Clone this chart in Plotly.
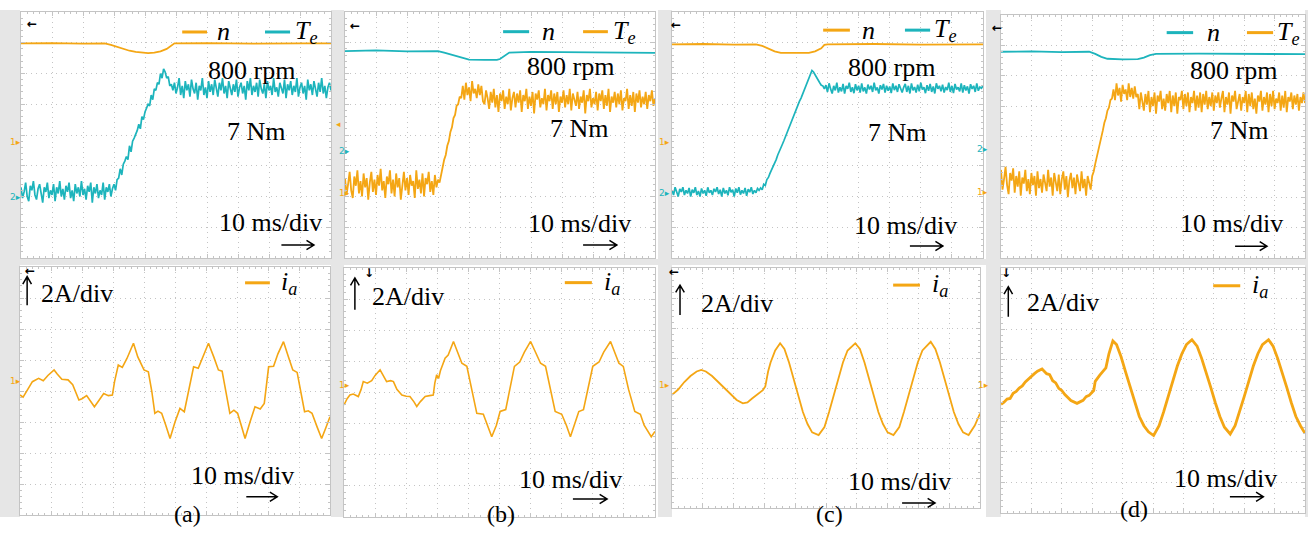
import numpy as np
import plotly.graph_objects as go

W, H = 1308, 543

# ---------------- measured traces ----------------
# time in ms (10 ms/div), level in screen divisions (8 div high)

# speed n : (t, level)
n_a = [(0, 6.98), (10, 6.99), (20, 6.97), (27, 6.98), (29, 6.93), (31, 6.86), (33, 6.8), (35, 6.74),
       (37, 6.7), (39, 6.67), (41, 6.66), (43, 6.68), (45, 6.72), (47, 6.8), (48.5, 6.9), (49.5, 6.98),
       (60, 6.99), (75, 6.97), (90, 6.98), (100, 6.98)]
n_b = [(0, 6.73), (10, 6.75), (20, 6.72), (30, 6.73), (32, 6.68), (34, 6.62), (36, 6.56), (38, 6.5),
       (40, 6.45), (45, 6.44), (49, 6.44), (50, 6.47), (51.5, 6.58), (53, 6.68), (60, 6.7), (75, 6.69),
       (90, 6.68), (100, 6.67)]
n_c = [(0, 6.95), (10, 6.96), (20, 6.94), (27, 6.95), (29, 6.9), (31, 6.8), (33, 6.72), (35, 6.67),
       (40, 6.66), (44, 6.67), (46, 6.72), (48, 6.82), (49, 6.93), (50, 6.95), (65, 6.96), (80, 6.94),
       (100, 6.95)]
n_d = [(0, 6.79), (10, 6.8), (20, 6.78), (29, 6.79), (31, 6.72), (33, 6.62), (35, 6.56), (40, 6.54),
       (45, 6.55), (47, 6.6), (49, 6.68), (51, 6.72), (65, 6.73), (80, 6.72), (100, 6.71)]

# torque Te : one sample every 0.5 ms, 0..100 ms (201 samples)
te_a = [2.3, 1.95, 2.15, 2.45, 2.0, 1.85, 2.35, 2.2, 2.5, 2.05,
        1.9, 2.25, 2.4, 2.1, 1.8, 2.3, 2.15, 2.45, 1.95, 2.2,
        2.05, 2.4, 1.85, 2.3, 2.1, 2.5, 2.0, 2.25, 1.9, 2.35,
        2.15, 2.45, 1.95, 2.2, 1.85, 2.4, 2.1, 2.3, 2.0, 2.5,
        2.05, 2.25, 1.9, 2.35, 2.15, 2.45, 1.8, 2.3, 2.1, 2.4,
        1.95, 2.2, 2.05, 2.45, 1.9, 2.3, 2.15, 2.4, 2.0, 2.25,
        2.4, 2.2, 2.55, 2.6, 2.9, 2.7, 3.05, 3.15, 3.3, 3.2,
        3.65, 3.45, 3.8, 3.9, 4.0, 4.15, 4.35, 4.2, 4.6, 4.5,
        4.75, 4.85, 5.0, 4.95, 5.3, 5.15, 5.5, 5.45, 5.7, 5.65,
        6.0, 5.85, 6.15, 6.05, 5.85, 5.9, 5.6, 5.65, 5.45,
        5.7, 5.35, 5.55, 5.85, 5.3, 5.6, 5.2, 5.75, 5.45, 5.65,
        5.25, 5.8, 5.5, 5.35, 5.7, 5.15, 5.6, 5.45, 5.85, 5.3,
        5.55, 5.2, 5.75, 5.4, 5.65, 5.3, 5.8, 5.5, 5.25, 5.7,
        5.45, 5.85, 5.35, 5.6, 5.2, 5.75, 5.5, 5.3, 5.65, 5.4,
        5.8, 5.25, 5.55, 5.7, 5.35, 5.6, 5.15, 5.75, 5.45, 5.85,
        5.3, 5.6, 5.4, 5.7, 5.25, 5.8, 5.5, 5.35, 5.65, 5.2,
        5.75, 5.45, 5.6, 5.3, 5.85, 5.4, 5.55, 5.25, 5.7, 5.5,
        5.35, 5.8, 5.2, 5.65, 5.45, 5.75, 5.3, 5.6, 5.4, 5.85,
        5.25, 5.55, 5.7, 5.35, 5.6, 5.15, 5.8, 5.45, 5.65, 5.3,
        5.75, 5.5, 5.25, 5.7, 5.4, 5.85, 5.35, 5.6, 5.2, 5.55,
        5.7, 5.45]
te_b = [2.6, 2.05, 2.4, 2.8, 2.2, 1.95, 2.65, 2.35, 2.85, 2.1,
        2.5, 2.0, 2.75, 2.3, 2.6, 1.9, 2.45, 2.8, 2.15, 2.55,
        2.05, 2.7, 2.35, 2.9, 2.2, 2.5, 1.95, 2.65, 2.4, 2.85,
        2.1, 2.55, 2.0, 2.75, 2.3, 2.6, 1.9, 2.45, 2.8, 2.2,
        2.6, 2.05, 2.7, 2.35, 2.5, 1.95, 2.85, 2.25, 2.55, 2.1,
        2.75, 2.0, 2.6, 2.4, 2.8, 2.15, 2.5, 2.05, 2.7, 2.3,
        2.55, 2.45,
        2.75, 2.95, 3.2, 3.35, 3.65, 3.8, 4.1, 4.25, 4.55, 4.65, 4.95, 5.0, 5.25, 5.2,
        5.6, 5.15, 5.7, 5.3, 5.55, 5.1, 5.75, 5.35, 5.5, 5.2, 5.65, 5.3, 5.6, 5.1,
        5.0, 5.45, 5.2, 4.85, 5.4, 5.05, 5.5, 4.9, 5.3, 4.75,
        5.35, 5.1, 5.45, 4.85, 5.25, 5.0, 5.5, 4.8, 5.2, 5.4,
        4.9, 5.35, 5.05, 5.45, 4.75, 5.3, 5.1, 5.5, 4.85, 5.25,
        4.95, 5.4, 4.7, 5.35, 5.15, 5.45, 4.9, 5.2, 5.0, 5.5,
        4.8, 5.3, 5.1, 5.45, 4.85, 5.35, 5.0, 5.4, 4.75, 5.25,
        5.05, 5.45, 4.9, 5.3, 5.0, 5.5, 4.8, 5.35, 5.15, 4.95,
        5.4, 4.85, 5.25, 5.05, 5.45, 4.7, 5.3, 5.1, 5.5, 4.9,
        5.2, 5.0, 5.4, 4.8, 5.35, 5.1, 5.45, 4.85, 5.3, 4.95,
        5.5, 4.75, 5.25, 5.05, 5.4, 4.9, 5.35, 5.0, 5.45, 4.8,
        5.2, 5.1, 5.5, 4.85, 5.3, 4.95, 5.4, 4.75, 5.35, 5.05,
        5.45, 4.9, 5.25, 5.0, 5.4, 4.85, 5.3, 5.1, 5.45, 4.95,
        5.2]
te_c = [2.2, 2.05, 2.3, 2.12, 2.0, 2.25, 2.15, 2.3, 2.05, 2.2,
        2.1, 2.28, 2.0, 2.22, 2.12, 2.3, 2.05, 2.18, 2.0, 2.26,
        2.1, 2.2, 2.02, 2.3, 2.12, 2.2, 2.05, 2.25, 2.15, 2.3,
        2.08, 2.22, 2.0, 2.28, 2.1, 2.2, 2.04, 2.3, 2.14, 2.22,
        2.0, 2.26, 2.12, 2.3, 2.06, 2.2, 2.1, 2.28, 2.02, 2.24,
        2.14, 2.3, 2.08, 2.2, 2.12, 2.26, 2.2,
        2.28, 2.22, 2.4, 2.36, 2.55, 2.62, 2.75, 2.85, 3.0, 3.08,
        3.2, 3.35, 3.45, 3.6, 3.7, 3.82, 3.95, 4.1, 4.2, 4.32,
        4.45, 4.6, 4.7, 4.85, 4.95, 5.1, 5.2, 5.32, 5.45, 5.58,
        5.68, 5.8, 5.95, 6.1,
        6.05, 5.95, 5.85, 5.8, 5.7, 5.62, 5.6, 5.5,
        5.62, 5.4, 5.68, 5.5, 5.35, 5.6, 5.45, 5.7, 5.38, 5.55,
        5.42, 5.66, 5.35, 5.6, 5.5, 5.7, 5.4, 5.55, 5.36, 5.65,
        5.45, 5.6, 5.38, 5.68, 5.42, 5.55, 5.35, 5.64, 5.48, 5.6,
        5.4, 5.7, 5.45, 5.55, 5.35, 5.62, 5.48, 5.66, 5.38, 5.6,
        5.44, 5.58, 5.36, 5.68, 5.46, 5.6, 5.4, 5.65, 5.5, 5.38,
        5.55, 5.66, 5.4, 5.6, 5.35, 5.68, 5.45, 5.56, 5.38, 5.64,
        5.42, 5.7, 5.48, 5.55, 5.36, 5.62, 5.44, 5.66, 5.4, 5.58,
        5.35, 5.68, 5.5, 5.6, 5.42, 5.64, 5.38, 5.56, 5.46, 5.7,
        5.4, 5.6, 5.36, 5.66, 5.48, 5.55, 5.42, 5.68, 5.38, 5.62,
        5.45, 5.58, 5.35, 5.65, 5.5, 5.6, 5.4, 5.68, 5.44, 5.56,
        5.52, 5.6]
te_d = [2.9, 2.25, 2.6, 3.0, 2.4, 2.1, 2.8, 2.55, 2.95, 2.15,
        2.7, 2.35, 2.85, 2.05, 2.65, 2.45, 2.9, 2.2, 2.6, 2.1,
        2.8, 2.4, 2.7, 2.05, 2.85, 2.3, 2.6, 2.15, 2.75, 2.45,
        2.2, 2.9, 2.35, 2.65, 2.05, 2.8, 2.5, 2.2, 2.75, 2.1,
        2.6, 2.85, 2.25, 2.7, 2.0, 2.55, 2.8, 2.3, 2.65, 2.1,
        2.75, 2.4, 2.2, 2.85, 2.3, 2.6, 2.05, 2.7, 2.45, 2.25,
        2.7, 2.85, 3.1, 3.3, 3.55, 3.75, 4.0, 4.2, 4.45, 4.6, 4.85, 4.95, 5.2, 5.25,
        5.55, 5.2, 5.75, 5.35, 5.6, 5.15, 5.7, 5.4, 5.55, 5.2, 5.75, 5.3, 5.6, 5.25, 5.65, 5.3,
        5.4, 4.9, 5.45, 5.15, 4.85, 5.4, 5.05, 5.5, 4.8, 5.3,
        5.0, 5.45, 4.75, 5.35, 5.15, 5.5, 4.9, 5.25, 4.85, 5.4,
        5.1, 5.5, 4.8, 5.35, 5.0, 5.45, 4.75, 5.3, 5.2, 5.5,
        4.9, 5.4, 5.0, 5.45, 4.8, 5.3, 5.1, 5.5, 4.85, 5.35,
        4.95, 5.45, 4.8, 5.4, 5.05, 5.5, 4.9, 5.3, 5.0, 5.45,
        4.85, 5.35, 5.1, 5.45, 4.95, 5.25, 5.5, 4.8, 5.3, 5.05,
        5.45, 4.75, 5.35, 5.15, 5.5, 4.9, 5.2, 5.4, 4.85, 5.3,
        5.1, 5.5, 4.8, 5.4, 5.0, 5.45, 4.9, 5.25, 4.75, 5.35,
        5.15, 5.5, 4.85, 5.3, 5.05, 5.45, 4.8, 5.4, 5.0, 5.5,
        4.9, 5.25, 5.1, 5.45, 4.85, 5.35, 4.95, 5.5, 4.8, 5.3,
        5.15, 5.45, 4.9, 5.35, 5.05, 5.4, 4.85, 5.3, 5.1, 5.45,
        5.1]

# phase current ia : (t, level)
ia_a = [(0, 3.87), (1, 3.8), (2.5, 4.05), (4, 4.3), (6, 4.41), (7.5, 4.33), (9, 4.5), (11, 4.68),
        (12, 4.55), (13.5, 4.38), (15.5, 4.36), (17, 4.2), (19, 3.71), (20, 3.75), (21.5, 3.85),
        (22.5, 3.7), (24, 3.49), (25.5, 3.7), (27, 3.92), (28.5, 3.85), (29.8, 3.87), (30.5, 4.3),
        (31.7, 4.84), (33, 4.76), (34.5, 5.05), (36.6, 5.54), (38, 5.1), (40, 4.68), (41.4, 4.62),
        (42.5, 4.0), (43.5, 3.28), (44.5, 3.35), (45.7, 3.28), (47, 2.9), (48.4, 2.47), (50, 3.0),
        (51.6, 3.44), (53, 3.33), (54.5, 4.1), (56, 4.78), (57.5, 4.73), (59, 5.1), (60.8, 5.54),
        (62.5, 5.1), (64, 4.68), (65.2, 4.64), (66.5, 3.9), (67.7, 3.28), (69, 3.38), (70.2, 3.28),
        (71.5, 2.85), (72.6, 2.47), (74.2, 3.0), (75.8, 3.49), (77.5, 3.42), (78.8, 3.6), (80.2, 4.78),
        (81.8, 4.8), (83.2, 5.2), (85, 5.59), (86.6, 5.1), (88, 4.68), (89.4, 4.6), (90.5, 4.0),
        (91.8, 3.33), (93, 3.36), (94.2, 3.28), (95.8, 2.85), (97.3, 2.47), (98.6, 2.8), (100, 3.17)]
ia_b = [(0, 3.6), (1, 3.8), (1.9, 3.92), (3, 3.95), (4.6, 3.87), (5.5, 4.1), (6.2, 4.35), (7.5, 4.3),
        (8.9, 4.38), (10, 4.55), (11.6, 4.73), (12.5, 4.55), (13.7, 4.35), (15, 4.38), (15.9, 4.35),
        (17, 4.1), (18.6, 3.92), (20, 3.88), (21.2, 3.87), (22.5, 3.7), (23.4, 3.55), (24.5, 3.7),
        (26.1, 3.87), (27.5, 3.9), (28.7, 3.92), (29.2, 4.3), (29.8, 4.57), (30.4, 4.45), (31, 4.7),
        (32.5, 5.1), (33.5, 5.2), (35.2, 5.64), (36.5, 5.3), (37.9, 4.94), (39.5, 4.84), (41, 4.1),
        (42.7, 3.33), (44.8, 3.3), (46, 2.95), (47.5, 2.58), (49, 2.95), (50.2, 3.39), (52, 3.45),
        (53.5, 4.2), (54.8, 4.84), (56.5, 4.98), (58, 5.3), (60, 5.64), (61.5, 5.3), (63.2, 4.94),
        (64.8, 4.84), (66.3, 4.1), (67.9, 3.39), (70, 3.3), (71.5, 2.95), (72.8, 2.58), (74, 2.95),
        (75.5, 3.39), (77, 3.45), (78.5, 4.2), (80, 4.84), (82, 4.98), (83.5, 5.3), (85.7, 5.64),
        (87, 5.3), (88.4, 4.94), (89.8, 4.84), (91.5, 4.1), (93.5, 3.39), (95.3, 3.3), (96.5, 2.95),
        (98.8, 2.58), (100, 2.75)]
ia_c = [(0, 3.77), (2, 3.95), (4, 4.2), (6, 4.4), (8, 4.55), (9.5, 4.6), (11, 4.55), (13, 4.4),
        (15, 4.2), (17, 4.0), (19, 3.8), (21, 3.6), (23, 3.49), (24.5, 3.52), (26, 3.65), (28, 3.8),
        (29.5, 3.93), (30.3, 4.05), (30.7, 4.32), (31.2, 4.55), (32, 4.85), (33.5, 5.25), (35.1, 5.49),
        (36.5, 5.3), (38, 4.85), (39.5, 4.3), (41, 3.75), (42.5, 3.2), (44, 2.8), (45.5, 2.52),
        (47.6, 2.43), (49.5, 2.7), (51, 3.2), (52.5, 3.75), (54, 4.3), (55.5, 4.85), (57, 5.25),
        (59.5, 5.49), (61, 5.3), (62.5, 4.85), (64, 4.3), (65.5, 3.75), (67, 3.2), (68.5, 2.8),
        (70, 2.52), (71.9, 2.43), (73.8, 2.7), (75.3, 3.2), (76.8, 3.75), (78.3, 4.3), (79.8, 4.85),
        (81.3, 5.25), (84, 5.54), (85.5, 5.3), (87, 4.85), (88.5, 4.3), (90, 3.75), (91.5, 3.2),
        (93, 2.8), (94.5, 2.52), (96.3, 2.43), (98.3, 2.75), (100, 3.15)]
ia_d = [(0, 3.55), (1, 3.62), (2, 3.72), (3, 3.74), (4, 3.91), (5, 3.97), (6, 4.08), (7, 4.15),
        (8, 4.28), (9, 4.38), (10, 4.48), (11, 4.55), (12, 4.63), (13.5, 4.7), (15, 4.55), (16, 4.52),
        (17, 4.32), (18, 4.25), (19, 4.07), (20, 4.0), (21, 3.87), (22, 3.78), (23, 3.67), (25, 3.58),
        (26, 3.63), (27, 3.68), (28, 3.8), (29, 3.84), (30.5, 4.0), (31, 4.3), (32.5, 4.5), (34.5, 4.74),
        (35.5, 5.2), (36.8, 5.62), (38, 5.5), (39.5, 5.1), (41, 4.6), (42.5, 4.1), (44, 3.6),
        (45.5, 3.15), (47, 2.85), (48.5, 2.65), (50.2, 2.53), (52, 2.85), (53.5, 3.3), (55, 3.8),
        (56.5, 4.3), (58, 4.8), (59.5, 5.2), (61, 5.5), (62.8, 5.66), (64.5, 5.45), (66, 5.05),
        (67.5, 4.6), (69, 4.1), (70.5, 3.6), (72, 3.15), (73.5, 2.8), (75.4, 2.58), (77, 2.85),
        (78.5, 3.3), (80, 3.8), (81.5, 4.3), (83, 4.8), (84.5, 5.2), (86, 5.5), (88, 5.66),
        (89.5, 5.45), (91, 5.05), (92.5, 4.6), (94, 4.1), (95.5, 3.6), (97, 3.15), (98.5, 2.85),
        (100, 2.6)]

case_labels = ["(a)", "(b)", "(c)", "(d)"]

# ---------------- styling ----------------
ORANGE = "#f4a614"
TEAL = "#1db4bc"
GRID = "#c4c4c4"
STRIP = "#e6e6e6"
FONT = "Liberation Serif, Times New Roman, serif"
TXT = 26

# screen boxes in pixels: x0, x1, y0 (top), y1 (bottom)
boxes = [
    (21, 331, 12, 258), (345, 655, 12, 258), (672, 983, 12, 258), (1001, 1305, 15, 258),
    (20, 330, 267, 515), (344, 655, 268, 517), (672, 980, 268, 508), (1001, 1305, 268, 513),
]

fig = go.Figure()
layout = dict(width=W, height=H, margin=dict(l=0, r=0, t=0, b=0),
              paper_bgcolor="white", plot_bgcolor="white", showlegend=False)

for i, (x0, x1, y0, y1) in enumerate(boxes, start=1):
    sx = "" if i == 1 else str(i)
    common = dict(showgrid=True, gridcolor=GRID, gridwidth=1, griddash="1px,4px",
                  zeroline=False, showticklabels=False, showline=True, linecolor=GRID,
                  linewidth=1, mirror="ticks", ticks="inside", ticklen=4, tickcolor=GRID,
                  fixedrange=True)
    layout["xaxis" + sx] = dict(domain=[x0 / W, x1 / W], range=[0, 100], dtick=10,
                                anchor="y" + sx,
                                minor=dict(ticks="inside", ticklen=2, tickcolor=GRID,
                                           showgrid=False, dtick=2), **common)
    layout["yaxis" + sx] = dict(domain=[1 - y1 / H, 1 - y0 / H], range=[0, 8], dtick=1,
                                anchor="x" + sx,
                                minor=dict(ticks="inside", ticklen=2, tickcolor=GRID,
                                           showgrid=False, dtick=0.2), **common)

fig.update_layout(**layout)


def ax(i):
    return ("x", "y") if i == 1 else (f"x{i}", f"y{i}")


def add_line(i, xs, ys, color, width):
    xa, ya = ax(i)
    fig.add_trace(go.Scatter(x=xs, y=ys, mode="lines", xaxis=xa, yaxis=ya,
                             line=dict(color=color, width=width), hoverinfo="skip"))


def pairs(i, data, color, width):
    add_line(i, [p[0] for p in data], [p[1] for p in data], color, width)


def sampled(i, vals, color, width):
    add_line(i, np.linspace(0, 100, len(vals)), vals, color, width)


# top row: speed + torque
speed_cols = [ORANGE, TEAL, ORANGE, TEAL]
torque_cols = [TEAL, ORANGE, TEAL, ORANGE]
torque_w = [1.7, 1.8, 1.7, 1.8]
for k, (n, te) in enumerate(zip([n_a, n_b, n_c, n_d], [te_a, te_b, te_c, te_d])):
    sampled(k + 1, te, torque_cols[k], torque_w[k])
    pairs(k + 1, n, speed_cols[k], 1.8)

# bottom row: phase current
for k, (ia, w) in enumerate(zip([ia_a, ia_b, ia_c, ia_d], [1.6, 1.6, 1.8, 2.8])):
    pairs(k + 5, ia, ORANGE, w)

shapes = []
annotations = []


def text(i, x, y, s, size=TXT, xanchor="center", color="black"):
    xa, ya = ax(i)
    annotations.append(dict(x=x, y=y, xref=xa, yref=ya, text=s, showarrow=False,
                            xanchor=xanchor, yanchor="middle",
                            font=dict(family=FONT, size=size, color=color)))


def seg(i, x0, x1, y, color, width=3):
    xa, ya = ax(i)
    shapes.append(dict(type="line", xref=xa, yref=ya, x0=x0, x1=x1, y0=y, y1=y,
                       line=dict(color=color, width=width)))


def harrow(i, x0, x1, y):
    xa, ya = ax(i)
    p = f"M{x0},{y} L{x1},{y} M{x1 - 2.4},{y + 0.15} L{x1},{y} L{x1 - 2.4},{y - 0.15}"
    shapes.append(dict(type="path", xref=xa, yref=ya, path=p,
                       line=dict(color="black", width=1.5)))


def varrow(i, x, y0, y1):
    xa, ya = ax(i)
    p = f"M{x},{y0} L{x},{y1} M{x - 1.4},{y1 - 0.24} L{x},{y1} L{x + 1.4},{y1 - 0.24}"
    shapes.append(dict(type="path", xref=xa, yref=ya, path=p,
                       line=dict(color="black", width=1.5)))


# top row annotations: (rpm pos, Nm pos, time pos, arrow, legend line1, n x, line2, Te x)
top_text = [
    ((74.5, 6.11), (76.0, 4.10), (80.6, 1.14), (84.0, 94.5, 0.42), (52, 60, 7.35), 62.5, (78.7, 86.8), 87.8),
    ((72.9, 6.22), (75.5, 4.22), (75.8, 1.13), (76.8, 87.7, 0.42), (51, 59.4, 7.36), 62.8, (76.8, 84.8), 85.9),
    ((70.7, 6.18), (72.5, 4.08), (75.2, 1.07), (76.5, 87.1, 0.39), (48.6, 57.2, 7.41), 60.3, (74.9, 83.0), 83.6),
    ((76.6, 6.16), (78.3, 4.21), (75.9, 1.14), (77.0, 87.5, 0.39), (54.5, 63.2, 7.42), 67.2, (80.9, 89.5), 90.2),
]
for k, (rpm, nm, tm, arr, l1, nx, l2, tx) in enumerate(top_text):
    i = k + 1
    text(i, rpm[0], rpm[1], "800 rpm")
    text(i, nm[0], nm[1], "7 Nm")
    text(i, tm[0], tm[1], "10 ms/div")
    harrow(i, *arr)
    seg(i, l1[0], l1[1], l1[2], speed_cols[k])
    text(i, nx, l1[2], "<i>n</i>", xanchor="left")
    seg(i, l2[0], l2[1], l1[2], torque_cols[k])
    text(i, tx, l1[2], "<i>T</i><sub><i>e</i></sub>", xanchor="left")

# bottom row annotations: (up arrow x, y0, y1), scale label, legend line, ia x, time label, arrow
bot_text = [
    ((2.3, 6.77, 7.69), (18.5, 7.16), (72.6, 80.6, 7.49), 83.6, (71.8, 1.29), (73.0, 83.0, 0.59)),
    ((3.5, 6.66, 7.68), (20.6, 7.08), (71.0, 79.7, 7.53), 82.8, (72.7, 1.19), (73.6, 84.6, 0.58)),
    ((2.6, 6.43, 7.43), (21.0, 6.82), (71.8, 80.5, 7.43), 83.8, (73.7, 0.88), (74.7, 85.4, 0.17)),
    ((2.4, 6.41, 7.39), (20.5, 6.86), (69.8, 78.7, 7.42), 82.0, (74.0, 1.13), (75.3, 86.3, 0.53)),
]
for k, (ua, sc, lg, ix, tm, arr) in enumerate(bot_text):
    i = k + 5
    varrow(i, *ua)
    text(i, sc[0], sc[1], "2A/div")
    seg(i, lg[0], lg[1], lg[2], ORANGE)
    text(i, ix, lg[2], "<i>i</i><sub><i>a</i></sub>", xanchor="left")
    text(i, tm[0], tm[1], "10 ms/div")
    harrow(i, *arr)

# grey bezels on the left of each screen and separator band between rows
for (x0, x1) in [(0, 20), (331, 344), (658, 672), (986, 1001), (1305, 1308)]:
    shapes.append(dict(type="rect", xref="paper", yref="paper", x0=x0 / W, x1=x1 / W,
                       y0=1 - 517 / H, y1=1 - 10 / H, fillcolor=STRIP, line=dict(width=0),
                       layer="below"))
shapes.append(dict(type="rect", xref="paper", yref="paper", x0=0, x1=1,
                   y0=1 - 265 / H, y1=1 - 259 / H, fillcolor=STRIP, line=dict(width=0),
                   layer="below"))

# channel markers in the bezels
marks = [
    (8, 135, "1▸", ORANGE), (8, 197, "2▸", TEAL), (334, 117, "◂", ORANGE),
    (337, 144, "2▸", TEAL), (337, 193, "1▸", ORANGE),
    (664, 135, "1▸", ORANGE), (664, 193, "2▸", TEAL),
    (990, 142, "2▸", TEAL), (990, 192, "1▸", ORANGE),
    (8, 388, "1▸", ORANGE), (337, 392, "1▸", ORANGE), (664, 392, "1▸", ORANGE), (991, 392, "1▸", ORANGE),
]
for (px, py, s, c) in marks:
    annotations.append(dict(x=px / W, y=1 - py / H, xref="paper", yref="paper", text=s,
                            showarrow=False, font=dict(family="DejaVu Sans", size=9, color=c)))

# trigger markers
for (px, py, s) in [(25, 15, "←"), (348, 17, "←"), (676, 16, "←"), (1004, 19, "←"),
                    (23, 271, "←"), (362, 273, "↓"), (674, 272, "←"), (1013, 273, "↓")]:
    annotations.append(dict(x=px / W, y=1 - py / H, xref="paper", yref="paper", text=f"<b>{s}</b>",
                            showarrow=False, font=dict(family="DejaVu Sans", size=12, color="black")))

# case captions
for (px, py), s in zip([(172, 529), (501, 529), (829, 529), (1150, 524)], case_labels):
    annotations.append(dict(x=px / W, y=1 - py / H, xref="paper", yref="paper", text=s,
                            showarrow=False, font=dict(family=FONT, size=24, color="black")))

fig.update_layout(shapes=shapes, annotations=annotations)
fig.write_html("out.html", config={"displayModeBar": False})
